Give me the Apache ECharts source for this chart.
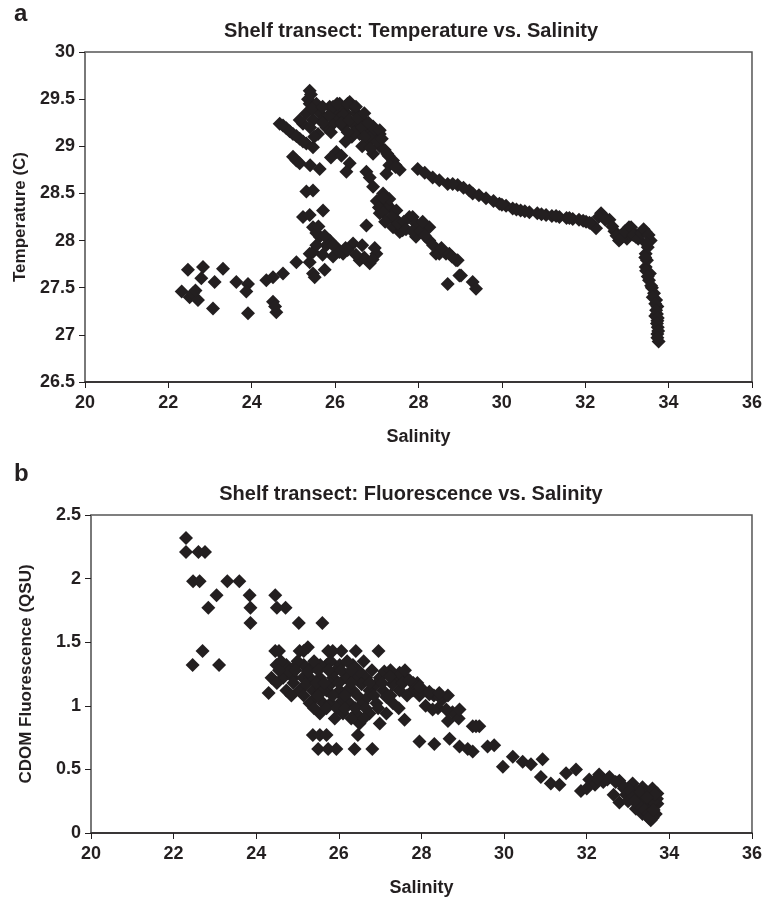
<!DOCTYPE html>
<html>
<head>
<meta charset="utf-8">
<script src="https://cdn.jsdelivr.net/npm/echarts@6/dist/echarts.min.js"></script>
<style>
  html, body { margin: 0; padding: 0; background: #fff; }
  #chart { width: 765px; height: 907px; }
</style>
</head>
<body>
<div id="chart"></div>
<script>
// panel a: temperature vs salinity
const salinityA = [
  22.32, 22.51, 22.59, 22.71, 22.47, 22.83, 22.79, 22.65, 23.07, 23.11, 23.31, 23.63, 23.91, 23.87, 23.91,
  24.35, 24.51, 24.51, 24.59, 24.56, 24.75, 25.07, 25.39, 25.47, 25.51, 25.75, 25.39, 25.47,
  25.23, 25.39, 25.71, 25.47, 25.63, 25.87, 26.03, 26.19, 26.43, 26.59, 26.83, 26.99, 25.95, 25.31, 25.47,
  25.79, 26.30, 26.70, 25.55,
  25.60, 25.75, 25.95, 26.10, 26.25, 26.50, 26.65, 26.90, 26.95, 25.55, 25.70,
  26.75, 27.07, 27.23, 27.30, 27.47, 27.39, 27.47, 27.55, 27.62, 27.78, 27.86, 27.94, 27.94, 28.26, 28.26,
  28.42, 28.50, 28.66, 28.74, 28.90, 28.94, 28.98, 29.02, 28.70, 29.30, 29.38, 27.15, 27.00, 26.91,
  27.05, 27.15, 27.35, 27.50, 27.65, 27.70, 27.85, 28.05, 28.15, 28.10, 28.35, 28.55, 28.80, 27.30, 27.20,
  25.07, 24.99, 25.15, 25.63, 26.03, 26.35, 26.27, 26.75, 26.83, 27.15, 25.90, 26.15, 25.40,
  24.67, 24.83, 24.99, 25.15, 25.31, 25.47, 24.75, 24.91, 25.07, 25.23,
  25.39, 25.35, 25.39, 25.31, 25.23, 25.15, 25.47, 25.63, 25.59, 25.79, 25.87, 26.11, 26.35, 26.03, 26.27,
  26.51, 25.95, 26.19, 26.43, 26.67, 26.91, 27.07, 26.59, 26.75, 26.91, 27.07, 26.20, 26.45, 25.75, 26.60,
  26.80, 26.40, 26.10, 25.55,
  25.42, 25.45, 25.40, 25.50, 25.70, 25.85, 25.95, 25.90, 25.70, 26.05, 26.20, 26.30, 26.15, 26.35, 26.50,
  26.45, 26.30, 26.25, 26.55, 26.70, 26.65, 26.80, 26.85, 26.95, 26.70, 26.65, 26.85, 27.00,
  27.07, 27.19, 27.39, 27.23, 27.55, 27.98, 28.34, 28.70, 28.94, 29.22, 29.30, 29.62, 29.94, 30.26, 30.66,
  31.06, 31.38, 31.70, 32.02, 32.26, 32.38, 32.58, 32.81, 33.05, 33.21, 33.45, 33.57,
  27.12, 27.28, 27.45, 27.30, 27.45, 27.25,
  29.45, 29.80, 30.10, 30.45, 30.85, 31.20, 31.55, 31.85, 32.15, 32.45, 32.70, 32.90, 33.12, 33.30, 33.00,
  28.15, 28.50, 28.82, 29.08, 30.00, 30.35, 30.55, 30.95, 31.30, 31.62, 31.95, 32.10,
  32.32, 32.48, 32.65, 32.75, 32.85, 32.95, 33.10, 33.15, 33.27, 33.35, 33.40, 33.52,
  33.45, 33.50, 33.45, 33.48, 33.53, 33.55, 33.65, 33.60, 33.73, 33.70, 33.73, 33.72, 33.73, 33.74, 33.76, 33.68,
  33.47, 33.44, 33.46, 33.50, 33.58, 33.62, 33.68, 33.70, 33.74, 33.72, 33.75, 33.73
];
const temperatureA = [
  27.46, 27.40, 27.44, 27.37, 27.69, 27.72, 27.60, 27.47, 27.28, 27.56, 27.70, 27.56, 27.54, 27.46, 27.23,
  27.58, 27.61, 27.35, 27.24, 27.30, 27.65, 27.77, 27.77, 27.65, 27.61, 27.69, 27.86, 27.88,
  28.25, 28.27, 28.32, 28.14, 28.04, 28.00, 27.93, 27.86, 27.97, 27.79, 27.76, 27.86, 27.83, 28.52, 28.53,
  27.95, 27.90, 27.82, 28.08,
  28.15, 28.05, 27.95, 27.88, 27.92, 27.85, 27.95, 27.80, 27.92, 27.95, 27.85,
  28.16, 28.29, 28.39, 28.36, 28.32, 28.14, 28.22, 28.09, 28.11, 28.25, 28.25, 28.18, 28.04, 28.14, 28.00,
  27.86, 27.86, 27.86, 27.86, 27.79, 27.79, 27.63, 27.63, 27.54, 27.56, 27.49, 28.50, 28.42, 28.57,
  28.35, 28.30, 28.25, 28.18, 28.20, 28.12, 28.10, 28.10, 28.05, 28.20, 27.95, 27.92, 27.83, 28.44, 28.20,
  28.85, 28.89, 28.82, 28.76, 28.94, 28.82, 28.73, 28.73, 28.67, 28.46, 28.88, 28.90, 28.80,
  29.24, 29.19, 29.13, 29.08, 29.03, 28.99, 29.22, 29.16, 29.11, 29.05,
  29.59, 29.50, 29.45, 29.35, 29.24, 29.28, 29.28, 29.35, 29.13, 29.20, 29.42, 29.45, 29.47, 29.35, 29.35,
  29.35, 29.24, 29.21, 29.24, 29.28, 29.21, 29.13, 29.13, 29.03, 28.92, 29.00, 29.40, 29.42, 29.30, 29.20,
  29.15, 29.10, 29.30, 29.45,
  29.55, 29.40, 29.20, 29.10, 29.42, 29.33, 29.42, 29.15, 29.25, 29.45, 29.33, 29.45, 29.25, 29.28, 29.42,
  29.15, 29.15, 29.05, 29.30, 29.35, 29.20, 29.25, 29.10, 29.18, 29.10, 29.00, 28.98, 29.05,
  29.17, 28.96, 28.85, 28.71, 28.75, 28.76, 28.67, 28.60, 28.59, 28.53, 28.50, 28.45, 28.39, 28.34, 28.30,
  28.27, 28.25, 28.23, 28.20, 28.13, 28.29, 28.22, 28.00, 28.14, 28.04, 28.09, 28.00,
  29.08, 28.90, 28.80, 28.80, 28.78, 28.92,
  28.48, 28.42, 28.37, 28.32, 28.29, 28.26, 28.24, 28.22, 28.18, 28.25, 28.10, 28.05, 28.10, 28.07, 28.02,
  28.72, 28.64, 28.60, 28.56, 28.38, 28.33, 28.31, 28.28, 28.26, 28.24, 28.21, 28.19,
  28.25, 28.22, 28.15, 28.05, 28.02, 28.10, 28.14, 28.06, 28.02, 28.08, 28.12, 28.06,
  27.86, 27.93, 27.72, 27.79, 27.58, 27.65, 27.44, 27.50, 27.30, 27.37, 27.15, 27.22, 27.01, 27.08, 26.93, 27.20,
  27.97, 27.82, 27.68, 27.62, 27.52, 27.40, 27.33, 27.26, 27.18, 27.12, 27.04, 26.97
];

// panel b: CDOM fluorescence vs salinity
const salinityB = [
  22.30, 22.30, 22.60, 22.76, 22.47, 22.63, 23.30, 23.59, 23.04, 23.84, 24.46, 22.84, 23.86, 24.50, 24.71,
  23.86, 25.03, 25.60, 22.70, 22.46, 23.10, 24.30,
  24.46, 25.05, 25.25, 25.74, 26.06, 26.41, 26.96, 24.55, 25.15, 25.85,
  24.49, 24.73, 24.97, 25.37, 25.70, 26.02, 26.34, 25.15, 25.55,
  24.37, 24.65, 24.89, 25.13, 25.54, 25.86, 26.18, 26.66, 26.99, 27.39, 27.63, 25.30, 26.40,
  24.80, 25.25, 25.90, 26.50, 27.10, 27.47,
  24.73, 25.05, 25.37, 25.70, 26.02, 26.34, 26.74, 27.07, 27.47, 27.79, 25.55, 26.20,
  25.20, 25.80, 26.55, 26.90, 27.30,
  25.29, 25.62, 26.02, 26.26, 26.58, 26.91, 27.31, 25.80,
  25.45, 26.10, 26.70, 27.15,
  25.54, 26.10, 26.42, 26.74, 27.15,
  26.50, 26.99, 27.59,
  24.60, 25.00, 25.40, 25.80, 26.20, 26.60,
  24.55, 24.95, 25.50, 25.75, 26.05, 26.30, 26.80, 27.25, 27.60,
  24.50, 24.90, 25.45, 25.65, 26.00, 26.30, 26.75, 27.05, 27.55, 27.90,
  24.85, 25.15, 25.50, 25.85, 26.15, 26.45, 26.85, 27.25, 27.65, 27.95,
  25.40, 25.70, 25.95, 26.15, 26.40, 26.65, 26.95, 27.45,
  25.90, 26.30, 26.60,
  27.80, 28.05, 28.30, 28.50, 28.10, 28.40, 28.75, 28.90,
  27.95, 28.19, 28.44, 28.64, 28.27, 28.60, 28.92, 28.64, 29.24, 29.40, 29.32, 27.71, 27.95, 28.19, 28.43, 27.23,
  25.37, 25.54, 25.70, 26.46, 25.50, 25.74, 25.94, 26.38, 26.81,
  27.95, 28.31, 28.68, 28.92, 29.12, 29.24, 29.60, 29.76,
  29.97, 30.21, 30.45, 30.65, 30.93, 30.89, 31.13, 31.34, 31.50, 31.74, 31.86, 32.06, 32.30, 32.55, 32.79,
  32.95, 33.11, 33.35, 33.59, 33.71, 33.71, 33.67, 33.55, 33.35, 33.19, 33.43, 33.27, 33.51, 32.79, 32.40,
  32.20, 32.00, 33.00, 33.60, 33.45, 33.20, 32.65, 32.90, 33.70, 33.60,
  33.10, 33.25, 33.40, 33.50, 33.60, 33.30, 33.55, 33.65, 33.45, 33.00, 32.85, 33.15, 33.50, 33.62,
  32.50, 32.70, 32.25
];
const fluorescenceB = [
  2.32, 2.21, 2.21, 2.21, 1.98, 1.98, 1.98, 1.98, 1.87, 1.87, 1.87, 1.77, 1.77, 1.77, 1.77,
  1.65, 1.65, 1.65, 1.43, 1.32, 1.32, 1.10,
  1.43, 1.43, 1.46, 1.43, 1.43, 1.43, 1.43, 1.43, 1.43, 1.43,
  1.32, 1.32, 1.32, 1.32, 1.32, 1.32, 1.32, 1.32, 1.32,
  1.22, 1.22, 1.22, 1.22, 1.22, 1.22, 1.22, 1.22, 1.22, 1.22, 1.22, 1.22, 1.22,
  1.27, 1.27, 1.27, 1.27, 1.27, 1.26,
  1.12, 1.12, 1.12, 1.12, 1.12, 1.12, 1.12, 1.12, 1.12, 1.12, 1.12, 1.12,
  1.17, 1.17, 1.17, 1.17, 1.17,
  1.02, 1.02, 1.02, 1.02, 1.02, 1.02, 1.02, 1.02,
  1.07, 1.07, 1.07, 1.07,
  0.94, 0.94, 0.94, 0.94, 0.94,
  0.86, 0.86, 0.89,
  1.35, 1.35, 1.35, 1.35, 1.35, 1.35,
  1.28, 1.28, 1.28, 1.28, 1.28, 1.28, 1.28, 1.28, 1.28,
  1.18, 1.18, 1.18, 1.18, 1.18, 1.18, 1.18, 1.18, 1.18, 1.18,
  1.08, 1.08, 1.08, 1.08, 1.08, 1.08, 1.08, 1.08, 1.08, 1.08,
  0.98, 0.98, 0.98, 0.98, 0.98, 0.98, 0.98, 0.98,
  0.90, 0.90, 0.90,
  1.18, 1.12, 1.08, 1.05, 1.00, 0.98, 0.95, 0.90,
  1.12, 1.09, 1.07, 1.08, 0.97, 0.97, 0.97, 0.88, 0.84, 0.84, 0.84, 1.20, 1.15, 1.11, 1.10, 1.23,
  0.77, 0.77, 0.77, 0.77, 0.66, 0.66, 0.66, 0.66, 0.66,
  0.72, 0.70, 0.74, 0.68, 0.66, 0.64, 0.68, 0.69,
  0.52, 0.60, 0.56, 0.54, 0.58, 0.44, 0.39, 0.38, 0.47, 0.50, 0.33, 0.42, 0.46, 0.44, 0.41,
  0.30, 0.39, 0.36, 0.35, 0.31, 0.23, 0.15, 0.10, 0.15, 0.19, 0.23, 0.28, 0.28, 0.24, 0.40,
  0.38, 0.35, 0.25, 0.20, 0.32, 0.33, 0.30, 0.35, 0.27, 0.12,
  0.30, 0.22, 0.18, 0.15, 0.25, 0.32, 0.33, 0.30, 0.28, 0.35, 0.38, 0.25, 0.12, 0.18,
  0.42, 0.40, 0.43
];

const salinityTicks = [20, 22, 24, 26, 28, 30, 32, 34, 36];

const ink = '#231f20';
const font = 'Liberation Sans, Arial, sans-serif';

function pairs(xs, ys) {
  return xs.map((x, i) => [x, ys[i]]);
}

function xAxisFor(gridIndex) {
  return {
    gridIndex: gridIndex,
    type: 'value',
    min: salinityTicks[0],
    max: salinityTicks[salinityTicks.length - 1],
    interval: 2,
    name: 'Salinity',
    nameLocation: 'middle',
    nameGap: 46,
    nameTextStyle: { color: ink, fontFamily: font, fontWeight: 'bold', fontSize: 18 },
    axisLine: { show: true, onZero: false, lineStyle: { color: ink, width: 1.5 } },
    axisTick: { show: true, inside: false, length: 6, lineStyle: { color: ink } },
    axisLabel: { color: ink, fontFamily: font, fontWeight: 'bold', fontSize: 18, margin: 12 },
    splitLine: { show: false }
  };
}

function yAxisFor(gridIndex, min, max, name) {
  return {
    gridIndex: gridIndex,
    type: 'value',
    min: min,
    max: max,
    interval: 0.5,
    name: name,
    nameLocation: 'middle',
    nameGap: 56,
    nameTextStyle: { color: ink, fontFamily: font, fontWeight: 'bold', fontSize: 17 },
    axisLine: { show: true, onZero: false, lineStyle: { color: '#777', width: 1.5 } },
    axisTick: { show: true, inside: false, length: 6, lineStyle: { color: ink } },
    axisLabel: { color: ink, fontFamily: font, fontWeight: 'bold', fontSize: 18, margin: 10 },
    splitLine: { show: false }
  };
}

const chart = echarts.init(document.getElementById('chart'), null, { renderer: 'canvas' });

chart.setOption({
  backgroundColor: '#fff',
  animation: false,
  graphic: [
    { type: 'text', left: 14, top: 2, style: { text: 'a', fill: ink, font: 'bold 24px ' + font } },
    { type: 'text', x: 411, y: 31, style: { text: 'Shelf transect: Temperature vs. Salinity', fill: ink, font: 'bold 20px ' + font, textAlign: 'center', textVerticalAlign: 'middle' } },
    { type: 'text', left: 14, top: 462, style: { text: 'b', fill: ink, font: 'bold 24px ' + font } },
    { type: 'text', x: 411, y: 494, style: { text: 'Shelf transect: Fluorescence vs. Salinity', fill: ink, font: 'bold 20px ' + font, textAlign: 'center', textVerticalAlign: 'middle' } }
  ],
  grid: [
    { left: 85, top: 52, width: 668, height: 330, show: true, borderColor: '#555', borderWidth: 1.5, backgroundColor: 'transparent' },
    { left: 91, top: 515, width: 662, height: 318, show: true, borderColor: '#555', borderWidth: 1.5, backgroundColor: 'transparent' }
  ],
  xAxis: [xAxisFor(0), xAxisFor(1)],
  yAxis: [
    yAxisFor(0, 26.5, 30, 'Temperature (C)'),
    yAxisFor(1, 0, 2.5, 'CDOM Fluorescence (QSU)')
  ],
  series: [
    {
      type: 'scatter',
      xAxisIndex: 0,
      yAxisIndex: 0,
      symbol: 'diamond',
      symbolSize: 14,
      itemStyle: { color: ink, opacity: 1 },
      data: pairs(salinityA, temperatureA)
    },
    {
      type: 'scatter',
      xAxisIndex: 1,
      yAxisIndex: 1,
      symbol: 'diamond',
      symbolSize: 14,
      itemStyle: { color: ink, opacity: 1 },
      data: pairs(salinityB, fluorescenceB)
    }
  ]
});
</script>
</body>
</html>
